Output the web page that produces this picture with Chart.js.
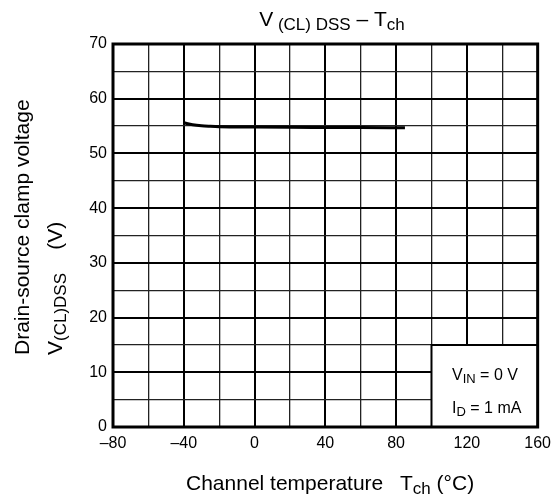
<!DOCTYPE html>
<html>
<head>
<meta charset="utf-8">
<script src="https://cdn.jsdelivr.net/npm/chart.js@4/dist/chart.umd.min.js"></script>
<style>
  html, body { margin: 0; padding: 0; background: #fff; }
  #wrap { width: 558px; height: 501px; }
</style>
</head>
<body>
<div id="wrap"><canvas id="chart" width="558" height="501"></canvas></div>
<script>
// clamp voltage vs channel temperature
const tempC = [-40, -35, -30, -25, -20, 0, 20, 40, 60, 85];
const vClamp = [55.6, 55.25, 55.05, 54.95, 54.88, 54.82, 54.78, 54.75, 54.72, 54.7];

const xTicks = [-80, -40, 0, 40, 80, 120, 160];
const yTicks = [0, 10, 20, 30, 40, 50, 60, 70];

// condition box corners in data units
const boxX = [100, 160];
const boxY = [0, 15];

const FONT = '"Liberation Sans", Arial, sans-serif';

function drawRuns(ctx, x, y, runs) {
    runs.forEach(r => {
        ctx.font = r.size + 'px ' + FONT;
        ctx.fillText(r.t, x, y + (r.dy || 0));
        x += ctx.measureText(r.t).width;
    });
    return x;
}

function runsWidth(ctx, runs) {
    let w = 0;
    runs.forEach(r => {
        ctx.font = r.size + 'px ' + FONT;
        w += ctx.measureText(r.t).width;
    });
    return w;
}

const textPlugin = {
    id: 'textPlugin',
    afterDraw(chart) {
        const ctx = chart.ctx;
        const xs = chart.scales.x, ys = chart.scales.y;
        const a = chart.chartArea;
        ctx.save();
        ctx.fillStyle = '#000';
        ctx.textBaseline = 'alphabetic';
        ctx.textAlign = 'left';

        // condition box
        const bl = xs.getPixelForValue(boxX[0]), br = xs.getPixelForValue(boxX[1]);
        const bt = ys.getPixelForValue(boxY[1]), bb = ys.getPixelForValue(boxY[0]);
        ctx.fillStyle = '#fff';
        ctx.fillRect(bl, bt, br - bl, bb - bt);
        ctx.strokeStyle = '#000';
        ctx.lineWidth = 2;
        ctx.beginPath();
        ctx.moveTo(bl, bb);
        ctx.lineTo(bl, bt);
        ctx.lineTo(br, bt);
        ctx.stroke();
        ctx.fillStyle = '#000';
        drawRuns(ctx, 452, 380, [{t: 'V', size: 16}, {t: 'IN', size: 13, dy: 3}, {t: ' = 0 V', size: 16}]);
        drawRuns(ctx, 452, 413, [{t: 'I', size: 16}, {t: 'D', size: 13, dy: 3}, {t: ' = 1 mA', size: 16}]);

        // outer frame
        ctx.lineWidth = 3;
        ctx.strokeRect(a.left, a.top, a.right - a.left, a.bottom - a.top);

        // title
        const title = [{t: 'V', size: 21}, {t: ' (CL) DSS', size: 17, dy: 4}, {t: ' \u2013 T', size: 21}, {t: 'ch', size: 17, dy: 4}];
        drawRuns(ctx, 332 - runsWidth(ctx, title) / 2, 26, title);

        // x title
        const xt = drawRuns(ctx, 186, 490, [{t: 'Channel temperature', size: 21}]);
        drawRuns(ctx, 400, 490, [{t: 'T', size: 21}, {t: 'ch', size: 17, dy: 4}, {t: ' (\u00b0C)', size: 21}]);

        // y title, two rotated lines
        ctx.translate(29, 355);
        ctx.rotate(-Math.PI / 2);
        drawRuns(ctx, 0, 0, [{t: 'Drain-source clamp voltage', size: 21}]);
        ctx.rotate(Math.PI / 2);
        ctx.translate(33, 0);
        ctx.rotate(-Math.PI / 2);
        drawRuns(ctx, 0, 0, [{t: 'V', size: 21}, {t: '(CL)DSS', size: 17, dy: 4}, {t: '    (V)', size: 21}]);
        ctx.restore();
    }
};

const isMajorX = v => v % 40 === 0;
const isMajorY = v => v % 10 === 0;

new Chart(document.getElementById('chart'), {
    type: 'line',
    data: {
        datasets: [{
            data: tempC.map((t, i) => ({x: t, y: vClamp[i]})),
            borderColor: '#000',
            borderWidth: 3,
            pointRadius: 0,
            tension: 0.4,
            cubicInterpolationMode: 'monotone',
            fill: false
        }]
    },
    options: {
        responsive: false,
        animation: false,
        events: [],
        layout: { padding: { left: 0, top: 44, right: 19, bottom: 0 } },
        plugins: { legend: { display: false }, tooltip: { enabled: false }, title: { display: false } },
        scales: {
            x: {
                type: 'linear',
                min: -80, max: 160,
                afterFit(s) { s.height = 74; },
                border: { display: false },
                grid: {
                    drawTicks: false,
                    color: ctx => isMajorX(ctx.tick.value) ? '#000' : '#222',
                    lineWidth: ctx => isMajorX(ctx.tick.value) ? 2 : 1.3
                },
                ticks: {
                    stepSize: 20,
                    autoSkip: false,
                    maxRotation: 0,
                    padding: 7,
                    color: '#000',
                    font: { family: FONT, size: 16 },
                    callback: v => xTicks.includes(v) ? String(v).replace('-', '\u2013') : ''
                }
            },
            y: {
                type: 'linear',
                min: 0, max: 70,
                afterFit(s) { s.width = 113; },
                border: { display: false },
                grid: {
                    drawTicks: false,
                    color: ctx => isMajorY(ctx.tick.value) ? '#000' : '#222',
                    lineWidth: ctx => isMajorY(ctx.tick.value) ? 2 : 1.3
                },
                ticks: {
                    stepSize: 5,
                    autoSkip: false,
                    padding: 6,
                    color: '#000',
                    font: { family: FONT, size: 16 },
                    callback: v => yTicks.includes(v) ? String(v) : ''
                }
            }
        }
    },
    plugins: [textPlugin]
});
</script>
</body>
</html>
